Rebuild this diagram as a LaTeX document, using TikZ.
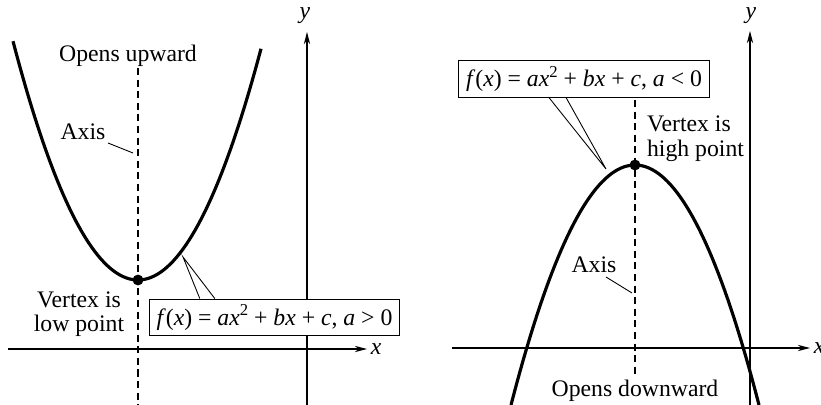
\documentclass[tikz,border=0pt]{standalone}
\usepackage{fontspec}
\setmainfont{Liberation Serif}
\usetikzlibrary{positioning,calc}
\usetikzlibrary{arrows.meta}
\newcommand{\quadform}[1]{\textit{f}(\textit{x}) = \textit{ax}\raisebox{0.4em}{\fontsize{9.5}{9.5}\selectfont 2} + \textit{bx} + \textit{c}, \textit{a} #1 0}
\tikzset{
	every node/.style={font=\fontsize{13.5}{14}\selectfont},
	curve/.style={draw=black,line width=1.8pt},
	axisline/.style={draw=black,line width=0.6pt,-{Stealth[length=7pt,width=3.6pt]}},
	symaxis/.style={draw=black,line width=0.6pt,dash pattern=on 4pt off 2.6pt},
	leader/.style={draw=black,line width=0.5pt},
	formula/.style={draw=black,fill=white,line width=0.6pt,inner sep=2pt,
		minimum width=142.5pt,minimum height=21pt},
	vtx/.style={circle,fill=black,inner sep=0pt,minimum size=6.2pt},
	lbl/.style={inner sep=1pt},
}

\begin{document}
\begin{tikzpicture}[x=0.02cm,y=-0.02cm]
					\useasboundingbox (0,0) rectangle (821,405);
					% opens upward
					\draw[axisline] (8,349) coordinate (xa) -- (367,349) coordinate (xb);
					\draw[axisline] (307,405) coordinate (ya) -- (307,32) coordinate (yb);
					\node[lbl,right=1pt of xb] (xL) {\textit{x}};
					\node[lbl] (yL) at (305,16) {\textit{y}};
					\draw[symaxis] (138,68) coordinate (sa) -- (138,405) coordinate (sb);
					\draw[curve] plot[domain=13:261,samples=80] (\x,{280-235*((\x-138)/124)^2});
					\node[vtx] (vL) at (138,280) {};
					\node[lbl,anchor=base] (upL) at (128,62) {Opens upward};
					\node[lbl,anchor=base] (axL) at (83,140) {Axis};
					\coordinate (axLend) at (133,153);
					\draw[leader] (108,143) -- (axLend);
					\node[lbl,align=center] (vtL) at (79,314) {Vertex is\\low point};
					\node[formula] (boxL) at (274.5,317.5) {\quadform{>}};
					\coordinate (tipL) at (183,257);
					\draw[leader] ($(boxL.north west)+(51,0)$) -- (tipL) -- ($(boxL.north west)+(66,0)$);
					% opens downward
					\draw[axisline] (452,348) coordinate (xc) -- (810,348) coordinate (xd);
					\draw[axisline] (750,405) coordinate (yc) -- (750,31) coordinate (yd);
					\node[lbl,right=1pt of xd] (xR) {\textit{x}};
					\node[lbl] (yR) at (751,16) {\textit{y}};
					\draw[symaxis] (635,100) coordinate (sc) -- (635,374) coordinate (sd);
					\draw[curve] plot[domain=511:759,samples=80] (\x,{165+240*((\x-635)/124)^2});
					\node[vtx] (vR) at (635,165) {};
					\node[lbl,anchor=base] (dnR) at (635,396) {Opens downward};
					\node[lbl,anchor=base] (axR) at (594,272) {Axis};
					\coordinate (axRend) at (632,293);
					\draw[leader] (606,277) -- (axRend);
					\node[lbl,align=left,anchor=west] (vtR) at (645,139) {Vertex is\\high point};
					\node[formula] (boxR) at (584,79) {\quadform{<}};
					\coordinate (tipR) at (606,169);
					\draw[leader] ($(boxR.south west)+(91,0)$) -- (tipR) -- ($(boxR.south west)+(108,0)$);
				\end{tikzpicture}
\end{document}
